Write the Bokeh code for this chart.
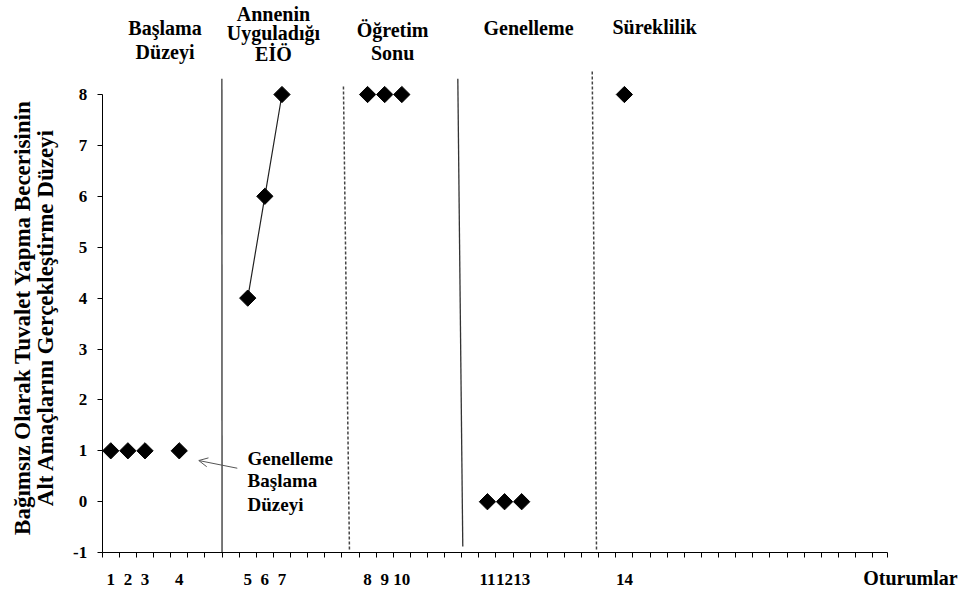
import numpy as np
from bokeh.plotting import figure
from bokeh.models import Range1d, FixedTicker, Label, Arrow, OpenHead, ColumnDataSource
from bokeh.embed import file_html
from bokeh.resources import INLINE

# ---- data ----
session_labels = ["1", "2", "3", "4", "5", "6", "7", "8", "9", "10", "11", "12", "13", "14"]
session_slot = [1, 2, 3, 5, 9, 10, 11, 16, 17, 18, 23, 24, 25, 31]
level = [1, 1, 1, 1, 4, 6, 8, 8, 8, 8, 0, 0, 0, 8]
phase = ["Başlama Düzeyi"] * 4 + ["Annenin Uyguladığı EİÖ"] * 3 + ["Öğretim Sonu"] * 3 + ["Genelleme"] * 3 + ["Süreklilik"]
connected_idx = [4, 5, 6]
y_ticks = [-1, 0, 1, 2, 3, 4, 5, 6, 7, 8]
n_slots = 46
x_axis_end = n_slots + 0.35

# phase change lines (bottom / top ends)
solid_x0 = [7.5, 21.56]
solid_y0 = [-1.0, -0.88]
solid_x1 = [7.49, 21.27]
solid_y1 = [8.31, 8.31]
dash_x0 = [14.94, 29.37]
dash_y0 = [-0.94, -0.94]
dash_x1 = [14.59, 29.12]
dash_y1 = [8.17, 8.48]

header_text = ["Başlama", "Düzeyi", "Annenin", "Uyguladığı", "EİÖ", "Öğretim", "Sonu", "Genelleme", "Süreklilik"]
header_x = [4.17, 4.17, 10.5, 10.5, 10.5, 17.46, 17.46, 25.4, 32.76]
header_y = [9.297, 8.845, 9.59, 9.205, 8.805, 9.277, 8.825, 9.297, 9.336]

note_text = ["Genelleme", "Başlama", "Düzeyi"]
note_y = [0.849, 0.417, -0.055]

ylabel_lines = ["Bağımsız Olarak Tuvalet Yapma Becerisinin", "Alt Amaçlarını Gerçekleştirme Düzeyi"]
ylabel_x = [-4.155, -2.81]
xlabel_text = "Oturumlar"

FONT = "Liberation Serif"

# the frame fills the whole canvas; axes are pinned at x=0.5 / y=-1
p = figure(width=960, height=591, output_backend="svg", toolbar_location=None,
           x_range=Range1d(-5.44, 50.63), y_range=Range1d(-1.764, 9.847),
           min_border_left=0, min_border_right=0, min_border_top=0, min_border_bottom=0)
p.xgrid.visible = False
p.ygrid.visible = False
p.outline_line_color = None
p.background_fill_color = "white"
p.border_fill_color = "white"

# phase lines
p.segment(x0=solid_x0, y0=solid_y0, x1=solid_x1, y1=solid_y1, line_color="#333333", line_width=1.3)
p.segment(x0=dash_x0, y0=dash_y0, x1=dash_x1, y1=dash_y1, line_color="#444444", line_width=1.5, line_dash="3 2")

# connecting line for sessions 5-7
p.line([session_slot[i] for i in connected_idx], [level[i] for i in connected_idx],
       line_color="#222222", line_width=1.2)

src = ColumnDataSource(dict(x=session_slot, y=level, phase=phase, label=session_labels))
p.scatter("x", "y", source=src, marker="square", size=11.5, angle=np.pi / 4,
          fill_color="black", line_color="black")

# axes
boundaries = [k + 0.5 for k in range(n_slots)] + [x_axis_end]
p.xaxis.fixed_location = -1
p.xaxis.bounds = (0.5, x_axis_end)
p.xaxis.ticker = FixedTicker(ticks=session_slot, minor_ticks=boundaries)
p.xaxis.major_label_overrides = {s: l for s, l in zip(session_slot, session_labels)}
p.xaxis.major_tick_out = 0
p.xaxis.major_tick_in = 0
p.xaxis.minor_tick_out = 5
p.xaxis.minor_tick_in = 0
p.xaxis.major_label_standoff = 16

p.yaxis.fixed_location = 0.5
p.yaxis.ticker = FixedTicker(ticks=y_ticks)
p.yaxis.major_label_overrides = {-1: "-1"}
p.yaxis.bounds = (-1, 8)
p.yaxis.major_tick_out = 5
p.yaxis.major_tick_in = 0
p.yaxis.minor_tick_out = 0
p.yaxis.minor_tick_in = 0
p.yaxis.major_label_standoff = 10

for ax in (p.xaxis, p.yaxis):
    ax.axis_line_color = "black"
    ax.axis_line_width = 1
    ax.major_tick_line_color = "black"
    ax.minor_tick_line_color = "black"
    ax.major_label_text_font = FONT
    ax.major_label_text_font_style = "bold"
    ax.major_label_text_font_size = "17px"
    ax.major_label_text_color = "black"

# y axis title (two lines)
for lx, txt in zip(ylabel_x, ylabel_lines):
    p.add_layout(Label(x=lx, y=3.62, text=txt, angle=np.pi / 2, text_align="center",
                       text_baseline="middle", text_font=FONT, text_font_style="bold",
                       text_font_size="23px", text_color="black"))

# phase headers
for t, hx, hy in zip(header_text, header_x, header_y):
    p.add_layout(Label(x=hx, y=hy, text=t, text_align="center", text_baseline="alphabetic",
                       text_font=FONT, text_font_style="bold", text_font_size="20px",
                       text_color="black"))

# note + arrow
for t, ny in zip(note_text, note_y):
    p.add_layout(Label(x=8.99, y=ny, text=t, text_align="left", text_baseline="alphabetic",
                       text_font=FONT, text_font_style="bold", text_font_size="19px",
                       text_color="black"))
p.add_layout(Arrow(end=OpenHead(size=9, line_color="#555555", line_width=1),
                   x_start=8.39, y_start=0.658, x_end=6.14, y_end=0.809,
                   line_color="#555555", line_width=1))

# x axis title (bottom right)
p.add_layout(Label(x=44.95, y=-1.489, text=xlabel_text, text_align="left", text_baseline="alphabetic",
                   text_font=FONT, text_font_style="bold", text_font_size="20px", text_color="black"))

open("out.html", "w").write(file_html(p, INLINE))
